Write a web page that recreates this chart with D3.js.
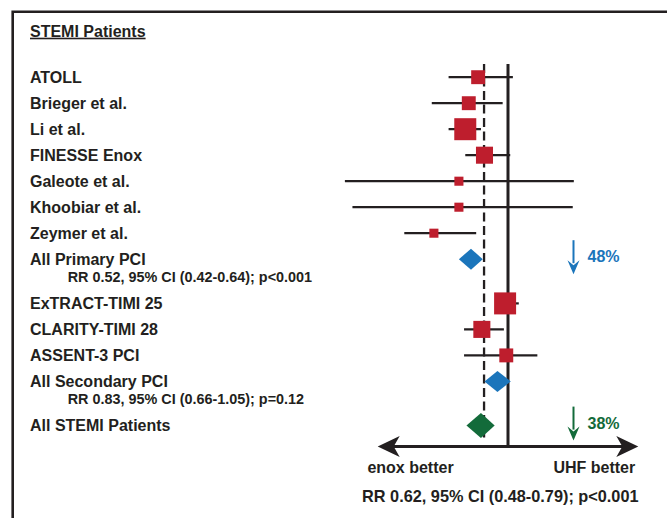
<!DOCTYPE html>
<html>
<head>
<meta charset="utf-8">
<script src="https://cdn.jsdelivr.net/npm/d3@7"></script>
<style>
  html, body { margin: 0; padding: 0; background: #fff; }
  svg { display: block; }
</style>
</head>
<body>
<div id="chart"></div>
<script>
// Individual trials
const studies = ["ATOLL", "Brieger et al.", "Li et al.", "FINESSE Enox", "Galeote et al.",
  "Khoobiar et al.", "Zeymer et al.", "ExTRACT-TIMI 25", "CLARITY-TIMI 28", "ASSENT-3 PCI"];
const studyRR = [0.59, 0.50, 0.47, 0.66, 0.42, 0.42, 0.27, 0.95, 0.63, 0.97];
const studyLow = [0.35, 0.26, 0.35, 0.47, 0.056, 0.064, 0.16, 0.80, 0.46, 0.46];
const studyHigh = [1.09, 0.91, 0.62, 1.04, 3.2, 3.14, 0.57, 1.21, 0.93, 1.68];
const studyWeight = [40, 40, 100, 60, 17, 17, 17, 100, 60, 40];
const studyRow = [0, 1, 2, 3, 4, 5, 6, 8.7, 9.7, 10.7];

// Pooled estimates
const pooledNames = ["All Primary PCI", "All Secondary PCI", "All STEMI Patients"];
const pooledRR = [0.52, 0.83, 0.62];
const pooledLow = [0.42, 0.66, 0.48];
const pooledHigh = [0.64, 1.05, 0.79];
const pooledRow = [7, 11.7, 13.4];
const pooledNotes = ["RR 0.52, 95% CI (0.42-0.64); p<0.001", "RR 0.83, 95% CI (0.66-1.05); p=0.12", ""];
const pooledColors = ["#1b75bb", "#1b75bb", "#136b3a"];

// Risk reduction callouts
const reductionText = ["48%", "38%"];
const reductionRow = [7, 13.4];
const reductionColors = ["#1b75bb", "#136b3a"];

const sectionTitle = "STEMI Patients";
const axisLabels = ["enox better", "UHF better"];
const footer = "RR 0.62, 95% CI (0.48-0.79); p<0.001";
const dashedRR = 0.655;

const w = 667, h = 518;
const ink = "#231f20";
const red = "#be1e2d";
const font = "'Liberation Sans', Arial, Helvetica, sans-serif";

const svg = d3.select("#chart").append("svg")
  .attr("width", w)
  .attr("height", h)
  .attr("viewBox", `0 0 ${w} ${h}`)
  .style("font-family", font)
  .style("font-weight", "bold");

const x = d3.scaleLog().domain([0.1, 10]).range([377.7, 638.3]);
// baseline of each row label
const y = d3.scaleLinear().domain([0, 13.4]).range([82.7, 431.1]);
const mid = r => y(r) - 5.5;
const side = d3.scaleSqrt().domain([0, 100]).range([0, 22]);
const axisY = 446.5;

// frame
svg.append("path")
  .attr("d", `M12.7,${h + 10} L12.7,11.7 L${w + 10},11.7`)
  .attr("fill", "none")
  .attr("stroke", ink)
  .attr("stroke-width", 2.6);

// section title, underlined
svg.append("text")
  .attr("x", 30)
  .attr("y", 36.7)
  .attr("fill", ink)
  .style("font-size", "16px")
  .style("text-decoration", "underline")
  .text(sectionTitle);

// row labels
svg.append("g").selectAll("text")
  .data(studies.map((s, i) => ({ name: s, row: studyRow[i] }))
    .concat(pooledNames.map((s, i) => ({ name: s, row: pooledRow[i] }))))
  .join("text")
  .attr("x", 30)
  .attr("y", d => y(d.row))
  .attr("fill", ink)
  .style("font-size", "16px")
  .text(d => d.name);

svg.append("g").selectAll("text")
  .data(pooledNotes.map((s, i) => ({ note: s, row: pooledRow[i] })).filter(d => d.note))
  .join("text")
  .attr("x", 67.7)
  .attr("y", d => y(d.row) + 17)
  .attr("fill", ink)
  .style("font-size", "14.4px")
  .text(d => d.note);

// reference lines
svg.append("line")
  .attr("x1", x(dashedRR)).attr("x2", x(dashedRR))
  .attr("y1", 64).attr("y2", 438)
  .attr("stroke", ink)
  .attr("stroke-width", 2.3)
  .attr("stroke-dasharray", "9,4.5");

svg.append("line")
  .attr("x1", x(1)).attr("x2", x(1))
  .attr("y1", 64).attr("y2", axisY)
  .attr("stroke", ink)
  .attr("stroke-width", 3);

// confidence intervals
const trials = studies.map((s, i) => ({
  rr: studyRR[i], lo: studyLow[i], hi: studyHigh[i], wt: studyWeight[i], row: studyRow[i]
}));

svg.append("g").selectAll("line")
  .data(trials)
  .join("line")
  .attr("x1", d => x(d.lo))
  .attr("x2", d => x(d.hi))
  .attr("y1", d => mid(d.row))
  .attr("y2", d => mid(d.row))
  .attr("stroke", ink)
  .attr("stroke-width", 2.2);

svg.append("g").selectAll("rect")
  .data(trials)
  .join("rect")
  .attr("x", d => x(d.rr) - side(d.wt) / 2)
  .attr("y", d => mid(d.row) - side(d.wt) / 2)
  .attr("width", d => side(d.wt))
  .attr("height", d => side(d.wt))
  .attr("fill", red);

// pooled diamonds
const pooled = pooledNames.map((s, i) => ({
  rr: pooledRR[i], lo: pooledLow[i], hi: pooledHigh[i], row: pooledRow[i], color: pooledColors[i],
  half: i === 2 ? 12.5 : 10.5
}));

svg.append("g").selectAll("path")
  .data(pooled)
  .join("path")
  .attr("d", d => {
    const cy = mid(d.row);
    return `M${x(d.lo)},${cy} L${x(d.rr)},${cy - d.half} L${x(d.hi)},${cy} L${x(d.rr)},${cy + d.half} Z`;
  })
  .attr("fill", d => d.color);

// reduction arrows
const arrowX = 573.5;
const callouts = reductionText.map((t, i) => ({ text: t, row: reductionRow[i], color: reductionColors[i] }));
const cg = svg.append("g").selectAll("g")
  .data(callouts)
  .join("g");

cg.append("line")
  .attr("x1", arrowX).attr("x2", arrowX)
  .attr("y1", d => mid(d.row) - 19)
  .attr("y2", d => mid(d.row) + 4)
  .attr("stroke", d => d.color)
  .attr("stroke-width", 2);

cg.append("path")
  .attr("d", d => {
    const tip = mid(d.row) + 15;
    return `M${arrowX - 6},${tip - 14} L${arrowX},${tip - 9} L${arrowX + 6},${tip - 14} L${arrowX},${tip} Z`;
  })
  .attr("fill", d => d.color);

cg.append("text")
  .attr("x", 587.5)
  .attr("y", d => y(d.row) - 2.5)
  .attr("fill", d => d.color)
  .style("font-size", "16px")
  .text(d => d.text);

// double-headed axis arrow
const x0 = x.range()[0], x1 = x.range()[1];
svg.append("line")
  .attr("x1", x0 + 12).attr("x2", x1 - 12)
  .attr("y1", axisY).attr("y2", axisY)
  .attr("stroke", ink)
  .attr("stroke-width", 3);

svg.append("path")
  .attr("d", `M${x0},${axisY} L${x0 + 22},${axisY - 10.5} L${x0 + 16},${axisY} L${x0 + 22},${axisY + 10.5} Z`)
  .attr("fill", ink);
svg.append("path")
  .attr("d", `M${x1},${axisY} L${x1 - 22},${axisY - 10.5} L${x1 - 16},${axisY} L${x1 - 22},${axisY + 10.5} Z`)
  .attr("fill", ink);

svg.append("g").selectAll("text")
  .data(axisLabels)
  .join("text")
  .attr("x", (d, i) => i === 0 ? 410.5 : 594.3)
  .attr("y", 473.3)
  .attr("text-anchor", "middle")
  .attr("fill", ink)
  .style("font-size", "16px")
  .text(d => d);

svg.append("text")
  .attr("x", 500.3)
  .attr("y", 501.7)
  .attr("text-anchor", "middle")
  .attr("fill", ink)
  .style("font-size", "16.3px")
  .text(footer);
</script>
</body>
</html>
